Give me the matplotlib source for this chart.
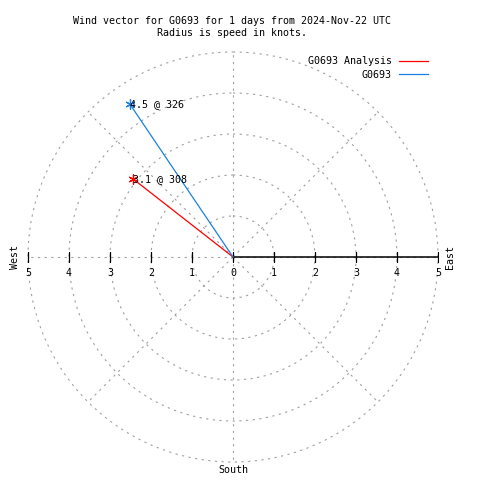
import numpy as np
import matplotlib
matplotlib.use("Agg")
import matplotlib.pyplot as plt
from matplotlib.lines import Line2D

# data
series_names = ["G0693 Analysis", "G0693"]
speeds = [3.1, 4.5]          # knots
directions = [308, 326]      # degrees, compass
colors = ["#ff0000", "#1a80e6"]
rings = [1, 2, 3, 4, 5]
spokes = [0, 45, 90, 135, 180, 225, 270, 315]

title = "Wind vector for G0693 for 1 days from 2024-Nov-22 UTC\nRadius is speed in knots."

mono = "DejaVu Sans Mono"
fs = 7.2
grid_col = "#a0a0a0"

rmax = 5.03
half = 205 * rmax / 5 / 480
cx, cy = 233 / 480, 1 - 257 / 480

fig = plt.figure(figsize=(4.8, 4.8), dpi=100)
ax = fig.add_axes([cx - half, cy - half, 2 * half, 2 * half], projection="polar")
ax.set_theta_zero_location("N")
ax.set_theta_direction(-1)
ax.set_ylim(0, rmax)
ax.set_rgrids(rings, labels=[""] * len(rings))
ax.set_thetagrids(spokes, labels=[""] * len(spokes))
ax.grid(True, color=grid_col, linestyle=(0, (2, 4)), linewidth=0.8)
ax.spines["polar"].set_visible(False)
ax.tick_params(length=0)

# black axis going east with ticks
east = np.deg2rad(90)
west = np.deg2rad(270)
ax.plot([east, east], [0, 5], color="black", lw=1.1, zorder=3)
ax.plot([east] * 6, [0] + rings, ls="none", marker="|", ms=7.2, mew=0.9, color="black", zorder=3)
ax.plot([west] * 5, rings, ls="none", marker="|", ms=7.2, mew=0.9, color="black", zorder=3)

for r in [0] + rings:
    ax.annotate(str(r), xy=(east, r), xytext=(0, -16), textcoords="offset pixels",
                ha="center", va="center", fontsize=fs, family=mono)
for r in rings:
    ax.annotate(str(r), xy=(west, r), xytext=(0, -16), textcoords="offset pixels",
                ha="center", va="center", fontsize=fs, family=mono)

# vectors
handles = []
for name, spd, d, c in zip(series_names, speeds, directions, colors):
    th = np.deg2rad(d)
    ax.plot([th, th], [0, spd], color=c, lw=0.9, zorder=4)
    ax.plot([th], [spd], ls="none", marker=(6, 2, 0), ms=7, mew=0.9, color=c, zorder=5)
    ax.annotate("%.1f @ %d" % (spd, d), xy=(th, spd), xytext=(0, 0), textcoords="offset pixels",
                ha="left", va="center", fontsize=fs, family=mono, zorder=6)
    handles.append(Line2D([], [], color=c, lw=0.9, label=name))

# compass labels
fig.text(450 / 480, cy, "East", rotation=90, ha="center", va="center", fontsize=fs, family=mono)
fig.text(15 / 480, cy, "West", rotation=90, ha="center", va="center", fontsize=fs, family=mono)
fig.text(233 / 480, 1 - 470 / 480, "South", ha="center", va="center", fontsize=fs, family=mono)

fig.text(232 / 480, 1 - 27 / 480, title, ha="center", va="center", fontsize=fs, family=mono, linespacing=1.35)

fig.legend(handles=handles, loc="upper right", bbox_to_anchor=(428 / 480, 1 - 56 / 480),
           frameon=False, markerfirst=False, handlelength=2.9, handletextpad=0.7,
           labelspacing=0.35, borderpad=0, borderaxespad=0,
           prop={"family": mono, "size": fs})

fig.savefig("out.png", dpi=100)
